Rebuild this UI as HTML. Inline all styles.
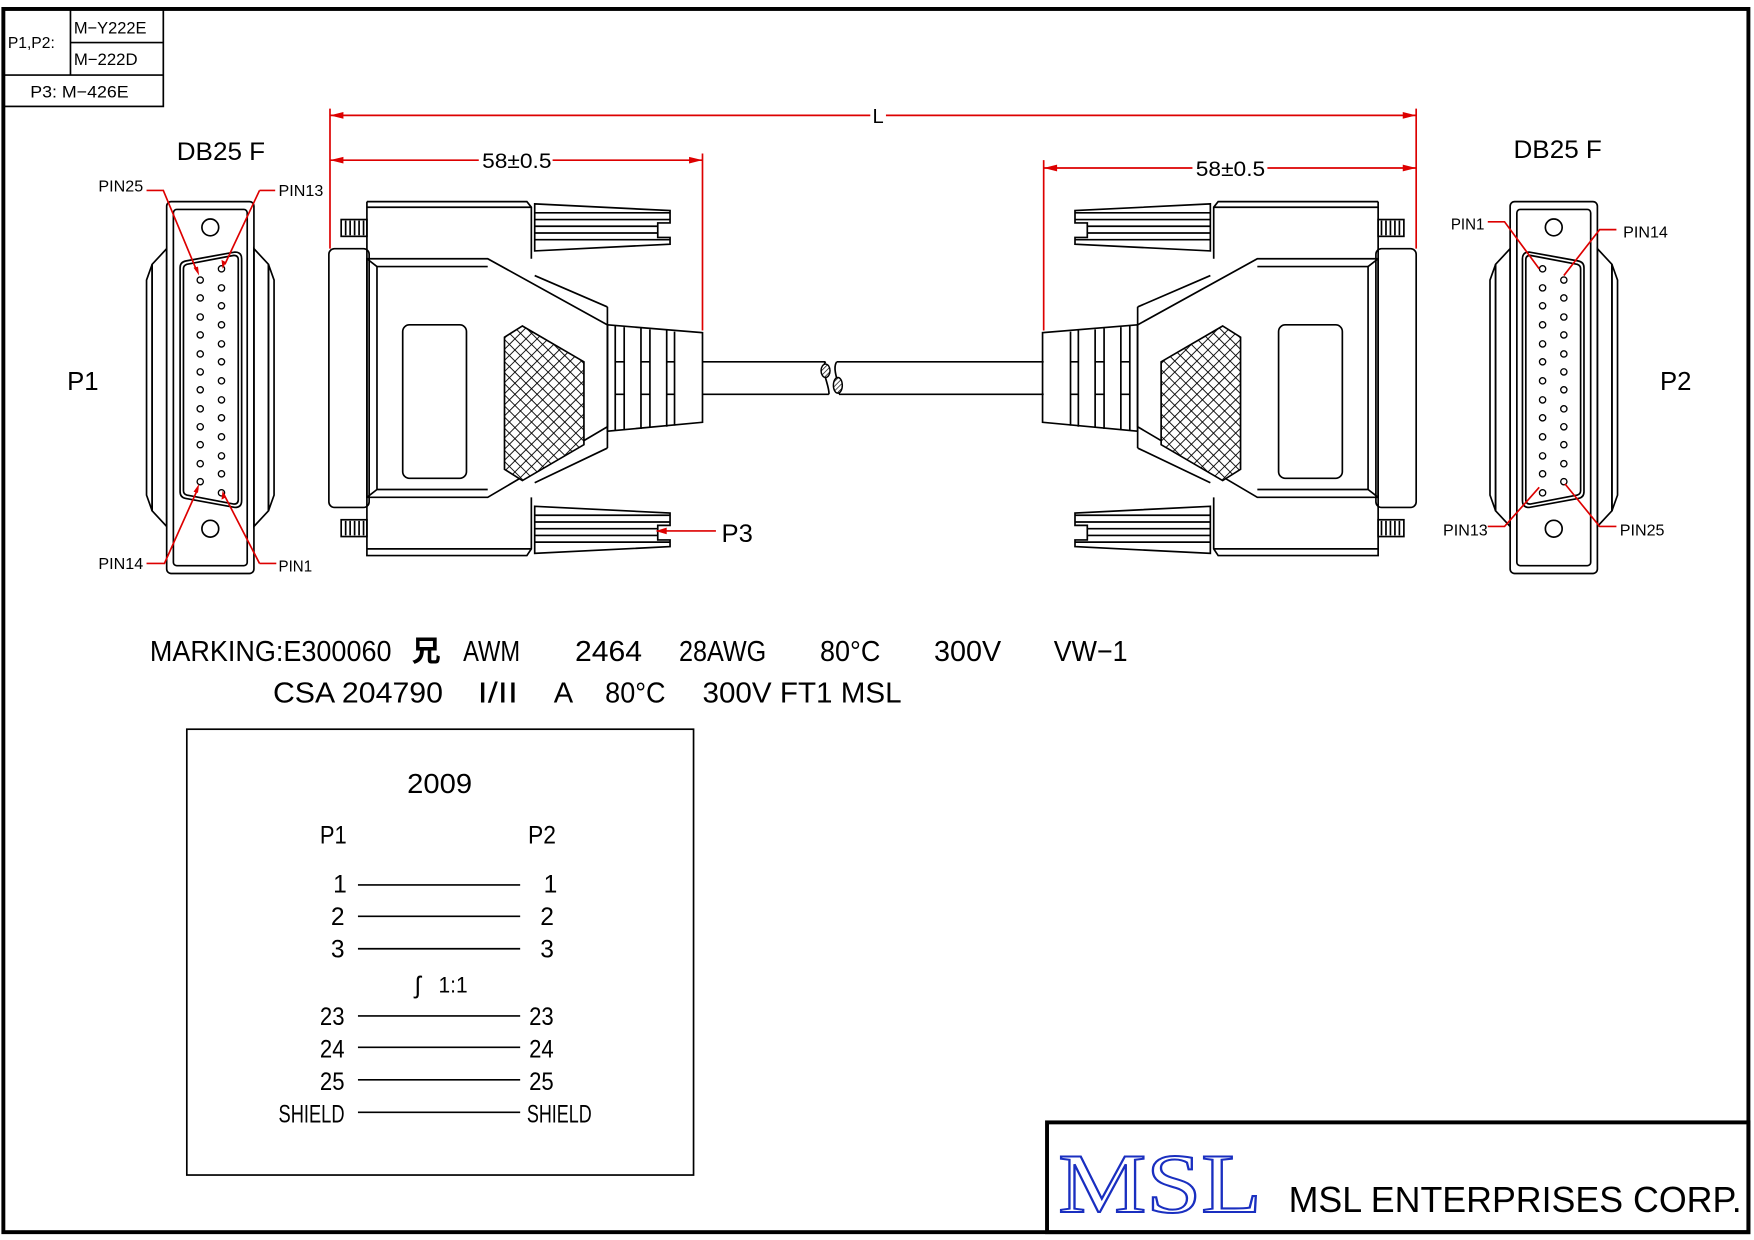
<!DOCTYPE html>
<html><head><meta charset="utf-8"><style>
html,body{margin:0;padding:0;background:#fff;}
svg{display:block;}
text{font-family:"Liberation Sans","Noto Sans CJK SC",sans-serif;fill:#000;}
</style></head><body>
<svg width="1754" height="1240" viewBox="0 0 1568 1107" preserveAspectRatio="none" xmlns="http://www.w3.org/2000/svg">
<defs>
<pattern id="hatch" width="7" height="7" patternUnits="userSpaceOnUse" patternTransform="rotate(45)">
<rect width="7" height="7" fill="#fff"/>
<line x1="0" y1="0" x2="0" y2="7" stroke="#000" stroke-width="1.6"/>
<line x1="0" y1="0" x2="7" y2="0" stroke="#000" stroke-width="1.6"/>
</pattern>
<pattern id="hatch2" width="3" height="3" patternUnits="userSpaceOnUse" patternTransform="rotate(45)">
<rect width="3" height="3" fill="#fff"/>
<line x1="0" y1="0" x2="0" y2="3" stroke="#000" stroke-width="1.2"/>
</pattern>
<g id="conn" fill="none" stroke="#000" stroke-width="1.5">
  <rect x="305" y="196" width="23" height="15" fill="#fff"/>
  <path d="M309 197v13M313 197v13M317 197v13M321 197v13M325 197v13"/>
  <rect x="305" y="464" width="23" height="15" fill="#fff"/>
  <path d="M309 465v13M313 465v13M317 465v13M321 465v13M325 465v13"/>
  <rect x="294" y="222" width="36" height="231" rx="5"/>
  <path d="M328 180H471L475 185V231M328 185H475M328 180V496H471L475 490V444M328 490H475"/>
  <path d="M328 231H436L543 290V381L436 444H328Z"/>
  <path d="M337 238H436"/>
  <path d="M337 238V437H436M328 231L337 238M328 444L337 437"/>
  <path d="M478 246L543 274M478 431L543 400"/>
  <path d="M543 274V400"/>
  <rect x="360" y="290" width="57" height="137" rx="6"/>
  <path d="M451 301L467 291L522 323V397L467 429L451 419Z" fill="url(#hatch)"/>
  <path d="M478 182L599 188V199H588V212H599V218L478 224Z"/>
  <path d="M478 190H599M478 196H599M478 202H588M478 208H588M478 214H599"/>
  <path d="M478 452L599 458V469H588V482H599V488L478 494Z"/>
  <path d="M478 460H599M478 466H599M478 472H588M478 478H588M478 484H599"/>
  <path d="M543 290L628 297V377L543 385Z"/>
  <path d="M550 291V384M558 292V384M573 293V383M581 294V382M596 295V381M603 296V380"/>
  <path d="M550 323H558M573 323H581M596 323H603M550 352H558M573 352H581M596 352H603"/>
</g>
<g id="face" fill="none" stroke="#000" stroke-width="1.5">
  <path d="M136 236L149 222V470L136 456Z"/>
  <path d="M131 250L136 236V456L131 442Z"/>
  <path d="M240 236L227 222V470L240 456Z"/>
  <path d="M245 250L240 236V456L245 442Z"/>
  <rect x="149" y="180" width="78" height="332" rx="4"/>
  <rect x="155" y="187" width="66" height="318" rx="3"/>
  <circle cx="188" cy="203" r="7.5"/>
  <circle cx="188" cy="472" r="7.5"/>
  <path d="M166 233L210 225Q216 225 216 231V447Q216 453 210 453L166 445Q161 444 161 439V239Q161 234 166 233Z"/>
  <path d="M167 236L209 228Q213 228 213 232V446Q213 450 209 450L167 442Q164 441 164 438V240Q164 237 167 236Z"/>
</g>
</defs>

<rect x="3" y="8" width="1560" height="1092" fill="none" stroke="#000" stroke-width="3.5"/>

<g fill="none" stroke="#000" stroke-width="1.5">
<rect x="3" y="8" width="143" height="87"/>
<path d="M3 67H146M63 8V67M63 38H146"/>
</g>
<text x="7" y="43" font-size="14">P1,P2:</text>
<text x="66" y="30" font-size="15" textLength="65" lengthAdjust="spacingAndGlyphs">M−Y222E</text>
<text x="66" y="58" font-size="15" textLength="57" lengthAdjust="spacingAndGlyphs">M−222D</text>
<text x="27" y="87" font-size="15" textLength="88" lengthAdjust="spacingAndGlyphs">P3:  M−426E</text>

<use href="#conn"/>
<use href="#conn" transform="translate(1560,0) scale(-1,1)"/>

<g fill="none" stroke="#000" stroke-width="1.5">
<path d="M628 323H738M628 352H741M748 323H933M750 352H933"/>
<path d="M738 323C733 330 742 345 741 352M748 323C743 330 752 345 750 352"/>
</g>
<ellipse cx="738" cy="331" rx="4" ry="6" fill="url(#hatch2)" stroke="#000" stroke-width="1.3"/>
<ellipse cx="749" cy="344" rx="4" ry="7" fill="url(#hatch2)" stroke="#000" stroke-width="1.3"/>

<use href="#face"/>
<use href="#face" transform="translate(1577,0) scale(-1,1)"/>
<g fill="#fff" stroke="#000" stroke-width="1.2">
<g id="pinsL">
<circle cx="179" cy="250" r="2.8"/><circle cx="179" cy="266" r="2.8"/><circle cx="179" cy="283" r="2.8"/><circle cx="179" cy="299" r="2.8"/><circle cx="179" cy="316" r="2.8"/><circle cx="179" cy="332" r="2.8"/><circle cx="179" cy="348" r="2.8"/><circle cx="179" cy="365" r="2.8"/><circle cx="179" cy="381" r="2.8"/><circle cx="179" cy="397" r="2.8"/><circle cx="179" cy="414" r="2.8"/><circle cx="179" cy="430" r="2.8"/>
</g>
<g id="pinsR">
<circle cx="198" cy="240" r="2.8"/><circle cx="198" cy="257" r="2.8"/><circle cx="198" cy="273" r="2.8"/><circle cx="198" cy="290" r="2.8"/><circle cx="198" cy="307" r="2.8"/><circle cx="198" cy="323" r="2.8"/><circle cx="198" cy="340" r="2.8"/><circle cx="198" cy="357" r="2.8"/><circle cx="198" cy="373" r="2.8"/><circle cx="198" cy="390" r="2.8"/><circle cx="198" cy="407" r="2.8"/><circle cx="198" cy="423" r="2.8"/><circle cx="198" cy="440" r="2.8"/>
</g>
<use href="#pinsL" transform="translate(1577,0) scale(-1,1)"/>
<use href="#pinsR" transform="translate(1577,0) scale(-1,1)"/>
</g>

<g fill="none" stroke="#d00" stroke-width="1.5">
<path d="M131 170H146L176 242M232 170H246M232 170L201 236M131 503H147L177 436M232 503H247M232 503L200 441"/>
<path d="M1330 198H1345L1376 240M1445 205H1430L1398 246M1330 470H1345L1376 435M1445 470H1430L1399 432"/>
<path d="M295 97V222M1266 97V222M295 103H778M792 103H1266"/>
<path d="M295 143H428M494 143H628M628 137V295"/>
<path d="M933 150H1066M1133 150H1266M933 143V295"/>
<path d="M587 474H640"/>
</g>
<g fill="#d00">
<path d="M295 103l12-3v6zM1266 103l-12-3v6zM295 143l12-3v6zM628 143l-12-3v6zM933 150l12-3v6zM1266 150l-12-3v6zM586 474l10-3v6z"/>
<path d="M178 246l-5-7 4-1zM199 240l-1-8 4 2zM178 432l-5 7 4 1zM199 438l-1 8 4-2z"/>
</g>
<text x="780" y="110" font-size="18">L</text>
<text x="431" y="150" font-size="19" textLength="62" lengthAdjust="spacingAndGlyphs">58±0.5</text>
<text x="1069" y="157" font-size="19" textLength="62" lengthAdjust="spacingAndGlyphs">58±0.5</text>
<text x="645" y="484" font-size="22" textLength="28" lengthAdjust="spacingAndGlyphs">P3</text>

<text x="158" y="143" font-size="22" textLength="79" lengthAdjust="spacingAndGlyphs">DB25  F</text>
<text x="88" y="171" font-size="14" textLength="40" lengthAdjust="spacingAndGlyphs">PIN25</text>
<text x="249" y="175" font-size="14" textLength="40" lengthAdjust="spacingAndGlyphs">PIN13</text>
<text x="88" y="508" font-size="14" textLength="40" lengthAdjust="spacingAndGlyphs">PIN14</text>
<text x="249" y="510" font-size="14" textLength="30" lengthAdjust="spacingAndGlyphs">PIN1</text>
<text x="60" y="348" font-size="23">P1</text>
<text x="1353" y="141" font-size="22" textLength="79" lengthAdjust="spacingAndGlyphs">DB25  F</text>
<text x="1297" y="205" font-size="14" textLength="30" lengthAdjust="spacingAndGlyphs">PIN1</text>
<text x="1451" y="212" font-size="14" textLength="40" lengthAdjust="spacingAndGlyphs">PIN14</text>
<text x="1290" y="478" font-size="14" textLength="40" lengthAdjust="spacingAndGlyphs">PIN13</text>
<text x="1448" y="478" font-size="14" textLength="40" lengthAdjust="spacingAndGlyphs">PIN25</text>
<text x="1484" y="348" font-size="23">P2</text>

<g font-size="26">
<text x="134" y="590" textLength="216" lengthAdjust="spacingAndGlyphs">MARKING:E300060</text>
<text x="368" y="590" font-weight="bold">兄</text>
<text x="414" y="590" textLength="51" lengthAdjust="spacingAndGlyphs">AWM</text>
<text x="514" y="590" textLength="60" lengthAdjust="spacingAndGlyphs">2464</text>
<text x="607" y="590" textLength="78" lengthAdjust="spacingAndGlyphs">28AWG</text>
<text x="733" y="590" textLength="54" lengthAdjust="spacingAndGlyphs">80°C</text>
<text x="835" y="590" textLength="60" lengthAdjust="spacingAndGlyphs">300V</text>
<text x="942" y="590" textLength="66" lengthAdjust="spacingAndGlyphs">VW−1</text>
<text x="244" y="627" textLength="152" lengthAdjust="spacingAndGlyphs">CSA  204790</text>
<text x="427" y="627" textLength="36" lengthAdjust="spacingAndGlyphs">I/II</text>
<text x="495" y="627">A</text>
<text x="541" y="627" textLength="54" lengthAdjust="spacingAndGlyphs">80°C</text>
<text x="628" y="627" textLength="178" lengthAdjust="spacingAndGlyphs">300V  FT1  MSL</text>
</g>

<rect x="167" y="651" width="453" height="398" fill="none" stroke="#000" stroke-width="1.5"/>
<g font-size="22">
<text x="364" y="708" font-size="25" textLength="58" lengthAdjust="spacingAndGlyphs">2009</text>
<text x="286" y="753" textLength="24" lengthAdjust="spacingAndGlyphs">P1</text>
<text x="472" y="753" textLength="25" lengthAdjust="spacingAndGlyphs">P2</text>
<g text-anchor="end">
<text x="310" y="797">1</text><text x="308" y="826">2</text><text x="308" y="855">3</text>
<text x="308" y="915" textLength="22" lengthAdjust="spacingAndGlyphs">23</text><text x="308" y="944" textLength="22" lengthAdjust="spacingAndGlyphs">24</text><text x="308" y="973" textLength="22" lengthAdjust="spacingAndGlyphs">25</text><text x="308" y="1002" textLength="59" lengthAdjust="spacingAndGlyphs">SHIELD</text>
</g>
<text x="486" y="797">1</text><text x="483" y="826">2</text><text x="483" y="855">3</text>
<text x="473" y="915" textLength="22" lengthAdjust="spacingAndGlyphs">23</text><text x="473" y="944" textLength="22" lengthAdjust="spacingAndGlyphs">24</text><text x="473" y="973" textLength="22" lengthAdjust="spacingAndGlyphs">25</text><text x="471" y="1002" textLength="58" lengthAdjust="spacingAndGlyphs">SHIELD</text>
<text x="371" y="887">ʃ</text><text x="392" y="886" font-size="20" textLength="26" lengthAdjust="spacingAndGlyphs">1:1</text>
</g>
<g stroke="#000" stroke-width="1.5">
<path d="M320 790H465M320 818H465M320 847H465M320 907H465M320 935H465M320 964H465M320 993H465"/>
</g>

<rect x="936" y="1002" width="627" height="98" fill="none" stroke="#000" stroke-width="3.5"/>
<text x="946" y="1082" font-size="76" style="font-family:'Liberation Serif',serif;fill:#fff;stroke:#1a2fc0;stroke-width:1.8" textLength="182" lengthAdjust="spacingAndGlyphs">MSL</text>
<text x="1152" y="1082" font-size="32" textLength="405" lengthAdjust="spacingAndGlyphs">MSL  ENTERPRISES  CORP.</text>
</svg>
</body></html>
